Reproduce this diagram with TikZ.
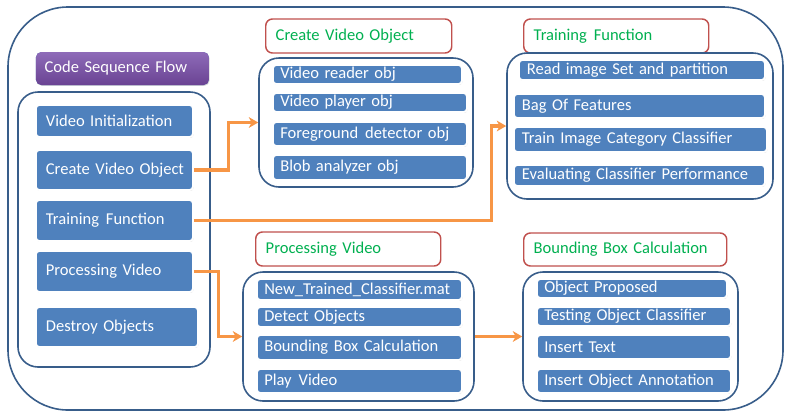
\documentclass[tikz,border=0pt]{standalone}
\usepackage{fontspec}
\setmainfont{Carlito}
\usetikzlibrary{arrows.meta,fit,shadows}

\definecolor{itemblue}{HTML}{4F81BD}
\definecolor{frameblue}{HTML}{385D8A}
\definecolor{flowor}{HTML}{F79646}
\definecolor{titlered}{HTML}{C0504D}
\definecolor{titlegreen}{HTML}{00B050}
\definecolor{purpletop}{HTML}{8E6BB8}
\definecolor{purplebot}{HTML}{6A4393}

\tikzset{
  item/.style={rectangle, rounded corners=2.5pt, fill=itemblue, draw=white,
    line width=1.4pt, text=white, align=left,
    drop shadow={shadow xshift=0.5pt, shadow yshift=-0.7pt, opacity=0.3}},
  headbox/.style={item, draw=none, top color=purpletop, bottom color=purplebot,
    rounded corners=4pt},
  titlebox/.style={rectangle, rounded corners=5pt, fill=white, draw=titlered,
    line width=1.1pt, text=titlegreen, align=left},
  cont/.style={rectangle, rounded corners=15pt, draw=frameblue, line width=1.2pt,
    inner sep=0pt},
  frame/.style={draw=frameblue, line width=1.2pt, rounded corners=45pt},
  flow/.style={draw=flowor, line width=2.3pt,
    -{Stealth[length=7pt, width=8pt, inset=2pt]}},
}

% wider word gap
\newcommand\wsp{\hspace{0.42em}}

% box given by its corners in pixel units: [style]{name}{xsep}{x1}{y1}{x2}{y2}{text}
\newcommand\itembox[8][item]{%
  \pgfmathsetmacro\boxtw{(#6-#4)*0.75-2*#3}%
  \pgfmathsetmacro\boxht{(#7-#5)*0.75}%
  \node[#1, inner xsep=#3pt, inner ysep=0pt, text width=\boxtw pt,
    minimum height=\boxht pt, anchor=west] (#2) at (#4,{(#5+#7)/2})
    {\mbox{#8}};}

\begin{document}
\begin{tikzpicture}[x=0.75pt, y=-0.75pt,
  font=\fontsize{12.4}{14}\selectfont]
\useasboundingbox (0,0) rectangle (785,412);

% outer frame
\draw[frame] (8,7) rectangle (783,410);

% left column
\itembox[headbox]{csf}{6.5}{35}{52}{208}{85}{Code Sequence Flow}
\node[cont, fit={(18,92) (210,367)}] (leftc) {};
\itembox{vinit}{7.5}{35}{105}{192}{137}{Video Initialization}
\itembox{cvo}{7.5}{35}{150}{192}{190}{Create Video Object}
\itembox{trf}{7.5}{35}{200}{192}{241}{Training\wsp Function}
\itembox{prv}{7.5}{35}{251}{192}{292}{Processing Video}
\itembox{dso}{7.5}{35}{307}{197}{347}{Destroy Objects}

% create video object
\itembox[titlebox]{cvt}{7.5}{265}{19}{451}{53}{Create Video Object}
\node[cont, fit={(259,58) (473,187)}] (cvc) {};
\itembox{vro}{5.5}{272}{65}{461}{84}{Video reader obj}
\itembox{vpo}{5.5}{272}{93}{466}{112}{Video player obj}
\itembox{fdo}{5.5}{272}{122}{466}{146}{Foreground\wsp detector obj}
\itembox{bao}{5.5}{272}{155}{466}{180}{Blob analyzer obj}

% training function
\itembox[titlebox]{tft}{7.5}{523}{19}{708}{53}{Training\wsp Function}
\node[cont, fit={(507,53) (773,199)}] (tfc) {};
\itembox{ris}{6}{518}{60}{764}{80}{Read image Set and partition}
\itembox{bof}{6}{513}{94}{764}{118}{Bag Of Features}
\itembox{tic}{6}{513}{127}{766}{152}{Train Image Category Classifier}
\itembox{ecp}{6}{513}{165}{764}{186}{Evaluating Classifier Performance}

% processing video
\itembox[titlebox]{pvt}{7.5}{255}{232}{440}{266}{Processing Video}
\node[cont, fit={(243,272) (474,401)}] (pvc) {};
\itembox{ntc}{5.5}{256}{279}{461}{300}{New\_Trained\_Classifier.mat}
\itembox{deo}{5.5}{256}{307}{461}{327}{Detect Objects}
\itembox{bbc}{5.5}{256}{335}{461}{360}{Bounding Box Calculation}
\itembox{plv}{5.5}{256}{369}{461}{393}{Play\wsp Video}

% bounding box calculation
\itembox[titlebox]{bbt}{7.5}{523}{233}{726}{266}{Bounding Box Calculation}
\node[cont, fit={(523,272) (738,401)}] (bbcont) {};
\itembox{obp}{5.5}{536}{279}{726}{298}{Object Proposed}
\itembox{toc}{5.5}{536}{307}{730}{326}{Testing Object Classifier}
\itembox{int}{5.5}{536}{335}{730}{359}{Insert Text}
\itembox{ioa}{5.5}{536}{369}{730}{393}{Insert Object Annotation}

% flow connectors
\draw[flow] (cvo.east) -- ++(35,0) |- (cvc.west);
\draw[flow] (trf.east) -- ++(298,0) |- (tfc.west);
\draw[flow] (prv.east) -- ++(25,0) |- (pvc.west);
\draw[flow] (pvc.east) -- (bbcont.west);
\end{tikzpicture}
\end{document}
